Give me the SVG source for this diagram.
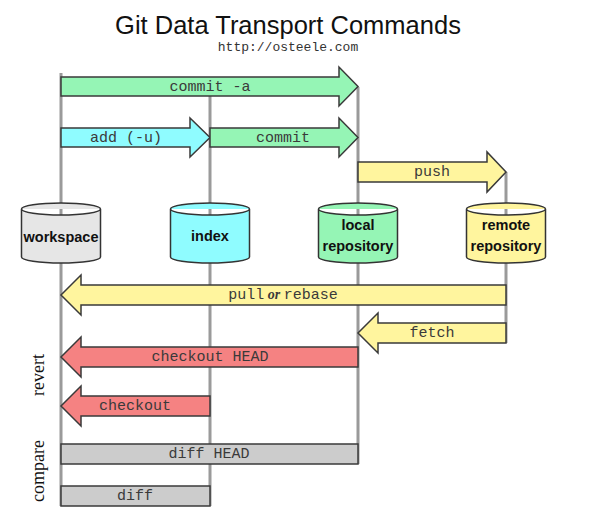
<svg xmlns="http://www.w3.org/2000/svg" width="606" height="522" viewBox="0 0 606 522">
<style>
.life{stroke:#9a9a9a;stroke-width:3;fill:none}
.arr{stroke:#3a3a3a;stroke-width:1.5;stroke-linejoin:miter}
.green{fill:#95f5b5}
.cyan{fill:#8ffcff}
.yellow{fill:#fff59e}
.red{fill:#f58282}
.gray{fill:#cccccc}
.lbl{font-family:"Liberation Mono","Courier New",monospace;font-size:15px;fill:#3a3a3a;text-anchor:middle}
.cyl{stroke:#333;stroke-width:1.5}
.node{font-family:"Liberation Sans",Arial,sans-serif;font-size:14.5px;font-weight:bold;fill:#111;text-anchor:middle}
.side{font-family:"Liberation Serif","Times New Roman",serif;font-size:18px;fill:#111;text-anchor:middle}
</style>
<rect width="606" height="522" fill="#fff"/>
<text x="288" y="34" font-family="'Liberation Sans',Arial,sans-serif" font-size="25.5" fill="#111" text-anchor="middle">Git Data Transport Commands</text>
<text x="288" y="51" font-family="'Liberation Mono','Courier New',monospace" font-size="13" fill="#333" text-anchor="middle">http://osteele.com</text>
<g id="lifelines">
<line class="life" x1="61" y1="73" x2="61" y2="506"/>
<line class="life" x1="210" y1="77" x2="210" y2="506"/>
<line class="life" x1="358" y1="87" x2="358" y2="464"/>
<line class="life" x1="506" y1="172" x2="506" y2="343"/>
</g>
<g id="workspace">
<path class="cyl" fill="#e6e6e6" d="M21.5,209 A39.5,6 0 0 1 100.5,209 V257 A39.5,6 0 0 1 21.5,257 Z M21.5,209 A39.5,6 0 0 0 100.5,209"/>
<text class="node" x="61" y="242">workspace</text>
</g>
<g id="index">
<path class="cyl" fill="#8ffcff" d="M170.5,209 A39.5,6 0 0 1 249.5,209 V257 A39.5,6 0 0 1 170.5,257 Z M170.5,209 A39.5,6 0 0 0 249.5,209"/>
<text class="node" x="210" y="241">index</text>
</g>
<g id="local">
<path class="cyl" fill="#95f5b5" d="M318.5,209 A39.5,6 0 0 1 397.5,209 V257 A39.5,6 0 0 1 318.5,257 Z M318.5,209 A39.5,6 0 0 0 397.5,209"/>
<text class="node" x="358" y="230">local</text>
<text class="node" x="358" y="251">repository</text>
</g>
<g id="remote">
<path class="cyl" fill="#fff59e" d="M466.5,209 A39.5,6 0 0 1 545.5,209 V257 A39.5,6 0 0 1 466.5,257 Z M466.5,209 A39.5,6 0 0 0 545.5,209"/>
<text class="node" x="506" y="230">remote</text>
<text class="node" x="506" y="251">repository</text>
</g>
<g id="connectors">
<path class="arr green" d="M61,77 H339 V67 L358,86.5 L339,106 V96 H61 Z"/>
<text class="lbl" x="210" y="91">commit -a</text>
<path class="arr cyan" d="M61,128 H190 V118 L210,137.5 L190,157 V147 H61 Z"/>
<text class="lbl" x="126" y="142">add (-u)</text>
<path class="arr green" d="M210,128 H339 V118 L358,137.5 L339,157 V147 H210 Z"/>
<text class="lbl" x="283" y="142">commit</text>
<path class="arr yellow" d="M358,162 H487 V152 L506,172 L487,192 V182 H358 Z"/>
<text class="lbl" x="432" y="176">push</text>
<path class="arr yellow" d="M506,285 H81 V275 L61,295 L81,315 V305 H506 Z"/>
<text class="lbl" x="283" y="299">pull<tspan font-family="'Liberation Serif','Times New Roman',serif" font-style="italic" font-weight="bold" font-size="14"> or </tspan>rebase</text>
<path class="arr yellow" d="M506,323 H378 V313 L358,333 L378,353 V343 H506 Z"/>
<text class="lbl" x="432" y="337">fetch</text>
<path class="arr red" d="M358,347 H81 V337 L61,357 L81,377 V367 H358 Z"/>
<text class="lbl" x="210" y="361">checkout HEAD</text>
<path class="arr red" d="M210,396 H81 V386 L61,406 L81,426 V416 H210 Z"/>
<text class="lbl" x="135" y="410">checkout</text>
<rect class="arr gray" x="61" y="444" width="297" height="20"/>
<text class="lbl" x="209" y="458">diff HEAD</text>
<rect class="arr gray" x="61" y="486" width="149" height="20"/>
<text class="lbl" x="135" y="500">diff</text>
</g>
<text class="side" transform="translate(44,375) rotate(-90)">revert</text>
<text class="side" transform="translate(44,471) rotate(-90)">compare</text>
</svg>
